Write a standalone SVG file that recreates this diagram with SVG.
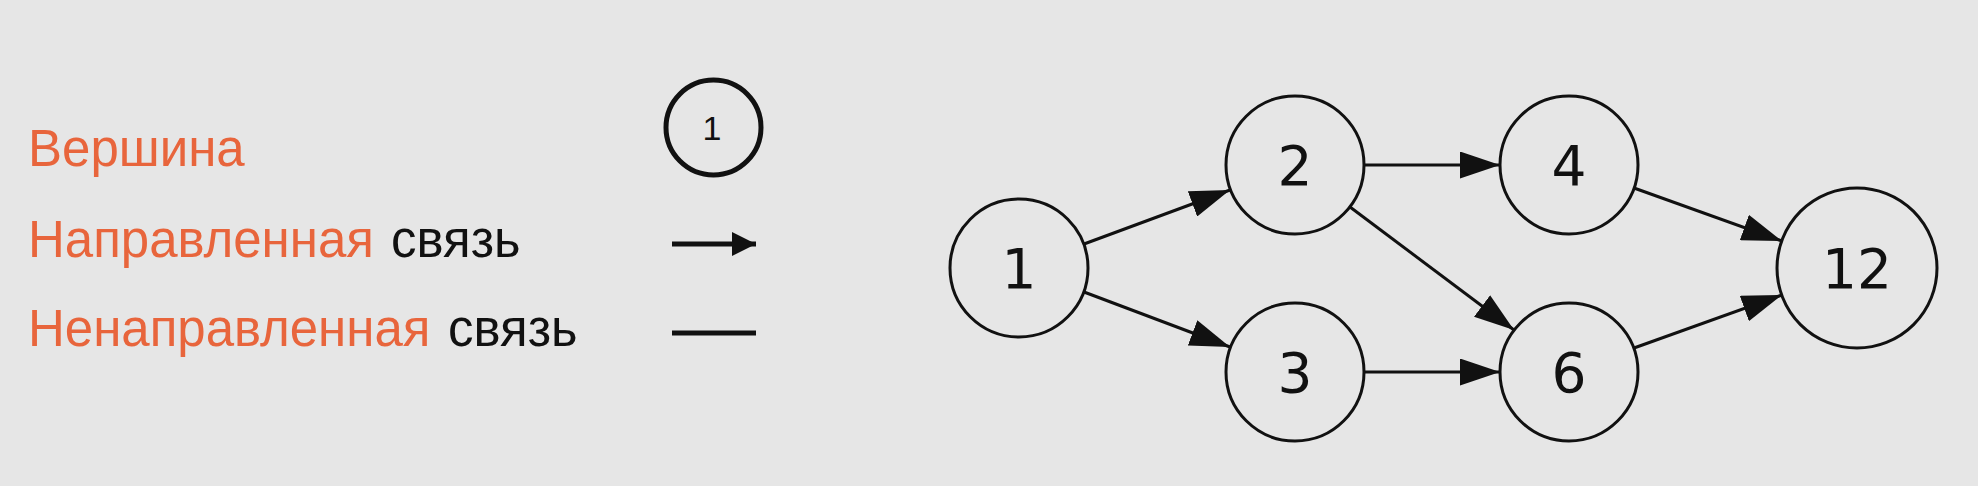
<svg xmlns="http://www.w3.org/2000/svg" width="1978" height="486" viewBox="0 0 1978 486">
<style>
.bg{fill:#e6e6e6}
.leg{font-family:"Liberation Sans",Arial,sans-serif;font-size:51px}
.or{fill:#e8653c}
.bk{fill:#111}
.node{fill:none;stroke:#111;stroke-width:3}
.lbl{font-family:"DejaVu Sans",sans-serif;font-size:55px;fill:#111;text-anchor:middle}
.edge{stroke:#111;stroke-width:3;fill:none}
.legline{stroke:#111;stroke-width:5;fill:none}
.legnum{font-family:"Liberation Sans",Arial,sans-serif;font-size:34px;fill:#111;text-anchor:middle}
</style>
<defs>
<marker id="ah" viewBox="0 0 40 27" refX="40" refY="13.5" markerWidth="40" markerHeight="27" markerUnits="userSpaceOnUse" orient="auto">
<path d="M0,0 L40,13.5 L0,27 Z" fill="#111"/>
</marker>
<marker id="ahs" viewBox="0 0 24 24" refX="24" refY="12" markerWidth="24" markerHeight="24" markerUnits="userSpaceOnUse" orient="auto">
<path d="M0,0 L24,12 L0,24 Z" fill="#111"/>
</marker>
</defs>
<rect class="bg" x="0" y="0" width="1978" height="486"/>
<g id="legend">
<text class="leg or" x="28" y="166">Вершина</text>
<text class="leg or" x="28" y="257">Направленная</text>
<text class="leg bk" x="391" y="257">связь</text>
<text class="leg or" x="28" y="346">Ненаправленная</text>
<text class="leg bk" x="448" y="346">связь</text>
<g id="legend-node">
<circle cx="713.5" cy="127.5" r="47.5" fill="none" stroke="#111" stroke-width="5"/>
<text class="legnum" x="712" y="140">1</text>
</g>
<line class="legline" x1="672" y1="244" x2="756" y2="244" marker-end="url(#ahs)"/>
<line class="legline" x1="672" y1="333" x2="756" y2="333"/>
</g>
<g id="connectors">
<line class="edge" x1="1084" y1="244" x2="1230" y2="190" marker-end="url(#ah)"/>
<line class="edge" x1="1084" y1="292" x2="1230" y2="347" marker-end="url(#ah)"/>
<line class="edge" x1="1364" y1="165" x2="1500" y2="165" marker-end="url(#ah)"/>
<line class="edge" x1="1364" y1="372" x2="1500" y2="372" marker-end="url(#ah)"/>
<line class="edge" x1="1350" y1="207" x2="1514" y2="330" marker-end="url(#ah)"/>
<line class="edge" x1="1634" y1="188" x2="1782" y2="241" marker-end="url(#ah)"/>
<line class="edge" x1="1634" y1="348" x2="1782" y2="295" marker-end="url(#ah)"/>
</g>
<g id="node-1"><circle class="node" cx="1019" cy="268" r="69"/><text class="lbl" x="1019" y="288">1</text></g>
<g id="node-2"><circle class="node" cx="1295" cy="165" r="69"/><text class="lbl" x="1295" y="185">2</text></g>
<g id="node-3"><circle class="node" cx="1295" cy="372" r="69"/><text class="lbl" x="1295" y="392">3</text></g>
<g id="node-4"><circle class="node" cx="1569" cy="165" r="69"/><text class="lbl" x="1569" y="185">4</text></g>
<g id="node-6"><circle class="node" cx="1569" cy="372" r="69"/><text class="lbl" x="1569" y="392">6</text></g>
<g id="node-12"><circle class="node" cx="1857" cy="268" r="80"/><text class="lbl" x="1857" y="288">12</text></g>
</svg>
